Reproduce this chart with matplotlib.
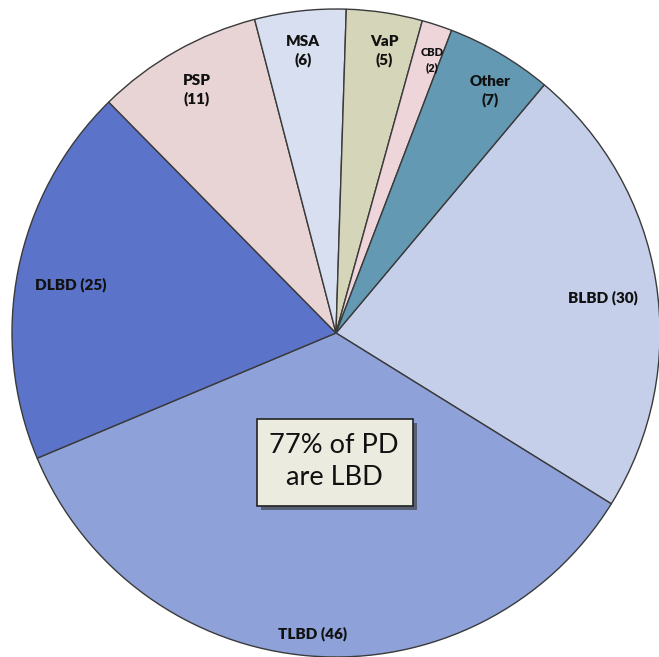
import matplotlib
matplotlib.use("Agg")
import matplotlib.pyplot as plt
from matplotlib.patches import Rectangle
import matplotlib.patheffects as pe

categories = ["BLBD", "TLBD", "DLBD", "PSP", "MSA", "VaP", "CBD", "Other"]
counts = [30, 46, 25, 11, 6, 5, 2, 7]
colors = ["#c5cfea", "#8ea2d9", "#5b73c9", "#e8d3d5", "#d8dff0", "#d5d5b9", "#edd5da", "#6499b3"]
box_text = "77% of PD\nare LBD"

W, H = 659, 657
fig = plt.figure(figsize=(W / 100, H / 100), dpi=100)
ax = fig.add_axes([0, 0, 1, 1])

cx, cy, R = 336, H - 333, 324
wedges, _ = ax.pie(counts, colors=colors, startangle=50, counterclock=False,
                   center=(cx, cy), radius=R, frame=True,
                   wedgeprops=dict(edgecolor="#3a3a3a", linewidth=1.0))
ax.set_xlim(0, W)
ax.set_ylim(0, H)
ax.set_aspect("equal")
ax.axis("off")

font = ["Lato", "DejaVu Sans"]
label_pos = {
    "BLBD": (603, 298, False, 11),
    "TLBD": (313, 634, False, 11),
    "DLBD": (71, 285, False, 11),
    "PSP": (197, 90, True, 11),
    "MSA": (303, 51, True, 11),
    "VaP": (384, 51, True, 11),
    "CBD": (432, 60, True, 8),
    "Other": (490, 91, True, 11),
}
for cat, n in zip(categories, counts):
    x, y, two, fs = label_pos[cat]
    txt = f"{cat}\n({n})" if two else f"{cat} ({n})"
    ax.text(x, H - y, txt, ha="center", va="center", fontsize=fs,
            fontweight="heavy", family=font, color="#111111", linespacing=1.4)

# annotation box
bx0, by0, bw, bh = 257, H - 506, 156, 87
rect = Rectangle((bx0, by0), bw, bh, facecolor="#ecebdf", edgecolor="#222222",
                 linewidth=1.2, zorder=5)
rect.set_path_effects([pe.SimplePatchShadow(offset=(3, -3), shadow_rgbFace="#333333", alpha=0.6),
                       pe.Normal()])
ax.add_patch(rect)
ax.text(bx0 + bw / 2 - 1, by0 + bh / 2 + 1, box_text, ha="center", va="center",
        fontsize=19.5, family=font, color="#111111", zorder=6, linespacing=1.35)

fig.savefig("out.png", dpi=100)
